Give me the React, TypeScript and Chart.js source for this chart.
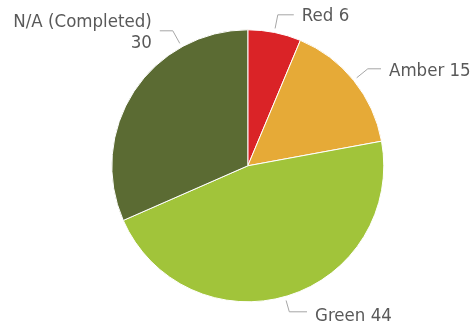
import React, { useEffect, useRef } from "react";
import { Chart, registerables } from "chart.js";

Chart.register(...registerables);

const categories = ["Red", "Amber", "Green", "N/A (Completed)"];
const values = [6, 15, 44, 30];
const colors = ["#DA2327", "#E6AA37", "#A1C43A", "#5B6B33"];

// label placement relative to pie centre (px): text x, text baseline, elbow x, leader y
const labelLayout = [
  { tx: 54, by: -144.5, ex: 30, ly: -151, align: "left", multiline: false },
  { tx: 141.2, by: -89.8, ex: 120, ly: -97, align: "left", multiline: false },
  { tx: 67.2, by: 154.8, ex: 41.5, ly: 146, align: "left", multiline: false },
  { tx: -96, by: -139.1, ex: -75, ly: -135, align: "right", multiline: true },
];

const FONT = "18.5px 'DejaVu Sans Condensed', 'DejaVu Sans', sans-serif";
const TEXT_COLOR = "#595959";
const LINE_COLOR = "#A6A6A6";

const labelPlugin = {
  id: "leaderLabels",
  afterDraw(chart: any) {
    const meta = chart.getDatasetMeta(0);
    const first = meta.data[0];
    if (!first) return;
    const cx = first.x;
    const cy = first.y;
    const R = first.outerRadius;
    const ctx = chart.ctx;
    ctx.save();
    ctx.font = FONT;
    ctx.fillStyle = TEXT_COLOR;
    ctx.strokeStyle = LINE_COLOR;
    ctx.lineWidth = 1;
    ctx.textBaseline = "alphabetic";
    categories.forEach((cat, i) => {
      const L = labelLayout[i];
      const ex = cx + L.ex;
      const ey = cy + L.ly;
      const dx = ex - cx;
      const dy = ey - cy;
      const d = Math.sqrt(dx * dx + dy * dy);
      const ax = cx + (dx / d) * (R + 4);
      const ay = cy + (dy / d) * (R + 4);
      const tx = cx + L.tx;
      const hx = L.align === "left" ? tx - 8 : tx + 8;
      ctx.beginPath();
      ctx.moveTo(ax, ay);
      ctx.lineTo(ex, ey);
      ctx.lineTo(hx, ey);
      ctx.stroke();
      ctx.textAlign = L.align;
      if (L.multiline) {
        ctx.fillText(cat, tx, cy + L.by);
        ctx.fillText(String(values[i]), tx, cy + L.by + 21.6);
      } else {
        ctx.fillText(`${cat} ${values[i]}`, tx, cy + L.by);
      }
    });
    ctx.restore();
  },
};

export default function App() {
  const ref = useRef<HTMLCanvasElement | null>(null);
  useEffect(() => {
    document.body.style.margin = "0";
    const canvas = ref.current;
    if (!canvas) return;
    const chart = new Chart(canvas, {
      type: "pie",
      data: {
        labels: categories,
        datasets: [
          {
            data: values,
            backgroundColor: colors,
            borderColor: "#FFFFFF",
            borderWidth: 1,
          },
        ],
      },
      options: {
        responsive: false,
        animation: false,
        layout: { padding: { left: 111.3, right: 87.7, top: 29.3, bottom: 20.7 } },
        plugins: {
          legend: { display: false },
          tooltip: { enabled: false },
        },
      },
      plugins: [labelPlugin],
    });
    return () => chart.destroy();
  }, []);
  return (
    <div style={{ width: 472, height: 323, background: "#FFFFFF" }}>
      <canvas ref={ref} width={472} height={323} />
    </div>
  );
}
